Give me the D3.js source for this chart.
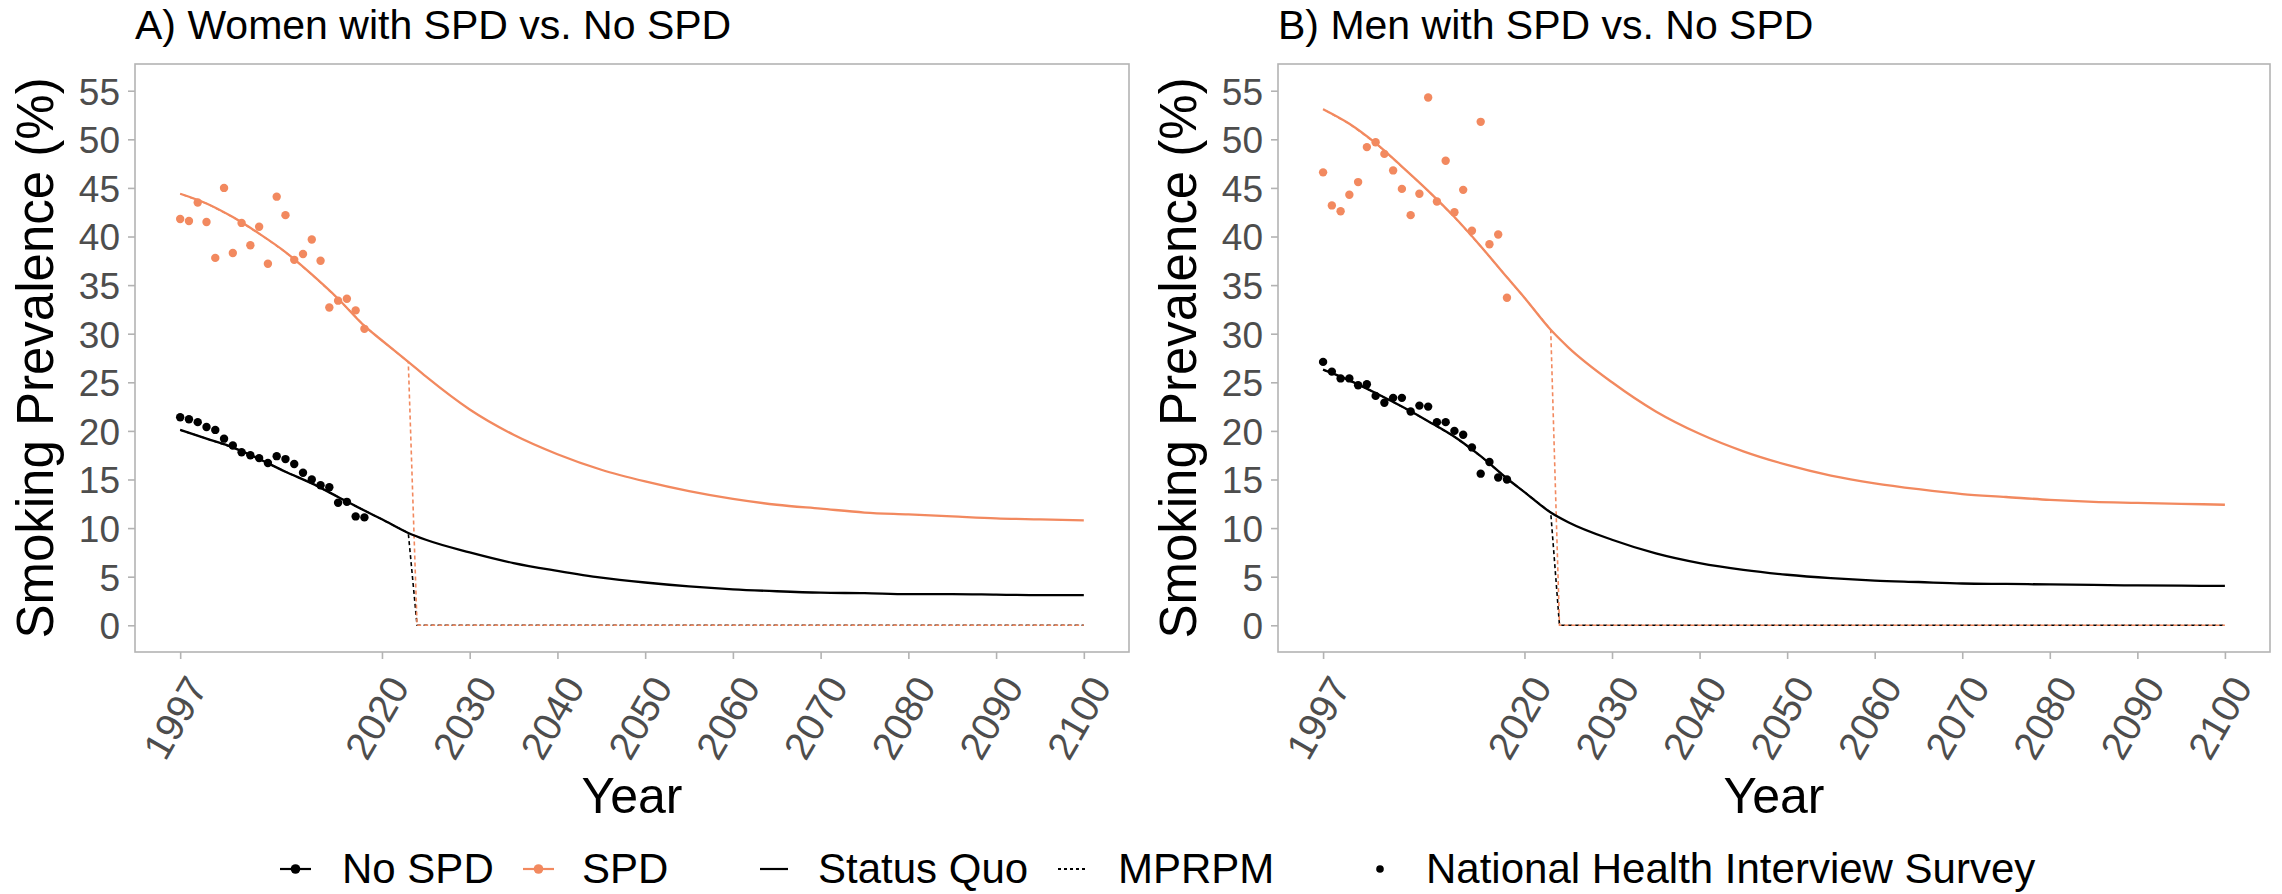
<!DOCTYPE html>
<html><head><meta charset="utf-8">
<script src="https://cdn.jsdelivr.net/npm/d3@7"></script>
<style>
body{margin:0;background:#fff;}
text{font-family:"Liberation Sans",Arial,Helvetica,sans-serif;}
</style>
</head><body>
<svg id="c" width="2282" height="894"></svg>
<script>
// ---------- DATA ----------
const surveyYears = [1997,1998,1999,2000,2001,2002,2003,2004,2005,2006,2007,2008,2009,2010,2011,2012,2013,2014,2015,2016,2017,2018];
const womenSPDSurvey   = [41.8,41.6,43.5,41.5,37.8,45.0,38.3,41.4,39.1,41.0,37.2,44.1,42.2,37.6,38.2,39.7,37.5,32.7,33.4,33.6,32.4,30.5];
const womenNoSPDSurvey = [21.4,21.2,20.9,20.4,20.1,19.2,18.5,17.8,17.5,17.2,16.7,17.4,17.1,16.6,15.7,15.0,14.4,14.2,12.6,12.7,11.2,11.1];
const menSPDSurvey     = [46.6,43.2,42.6,44.3,45.6,49.2,49.7,48.5,46.8,44.9,42.2,44.4,54.3,43.6,47.8,42.5,44.8,40.6,51.8,39.2,40.2,33.7];
const menNoSPDSurvey   = [27.1,26.1,25.4,25.4,24.7,24.8,23.6,22.9,23.4,23.4,22.0,22.6,22.5,20.9,20.9,20.0,19.6,18.3,15.6,16.8,15.2,15.0];

const modelYears = [1997,2000,2003,2006,2009,2012,2015,2018,2020,2023,2025,2030,2035,2040,2045,2050,2055,2060,2065,2070,2075,2080,2085,2090,2095,2100];
const womenSPDStatusQuo   = [44.4,43.4,42.0,40.3,38.4,36.1,33.6,30.8,29.3,27.1,25.6,22.2,19.6,17.6,16.0,14.8,13.8,13.0,12.4,12.0,11.6,11.4,11.2,11.0,10.9,10.8];
const womenNoSPDStatusQuo = [20.1,19.2,18.3,17.1,15.8,14.6,13.2,11.8,10.9,9.5,8.8,7.5,6.4,5.6,4.9,4.4,4.0,3.7,3.5,3.35,3.3,3.2,3.2,3.15,3.1,3.1];
const menSPDStatusQuo     = [53.1,51.6,49.6,47.2,44.7,42.0,39.0,35.8,33.7,30.4,28.6,25.0,22.0,19.7,17.9,16.5,15.4,14.6,14.0,13.5,13.2,12.9,12.7,12.6,12.5,12.4];
const menNoSPDStatusQuo   = [26.3,25.2,23.9,22.5,21.0,19.4,17.4,15.1,13.7,11.6,10.6,8.8,7.4,6.4,5.7,5.2,4.85,4.6,4.45,4.3,4.25,4.2,4.15,4.1,4.07,4.05];

const mprpmYears = [1997,2000,2003,2006,2009,2012,2015,2018,2020,2023,2024,2040,2060,2080,2100];
const womenSPDMPRPM   = [44.4,43.4,42.0,40.3,38.4,36.1,33.6,30.8,29.3,27.1,0,0,0,0,0];
const womenNoSPDMPRPM = [20.1,19.2,18.3,17.1,15.8,14.6,13.2,11.8,10.9,9.5,0,0,0,0,0];
const menSPDMPRPM     = [53.1,51.6,49.6,47.2,44.7,42.0,39.0,35.8,33.7,30.4,0,0,0,0,0];
const menNoSPDMPRPM   = [26.3,25.2,23.9,22.5,21.0,19.4,17.4,15.1,13.7,11.6,0,0,0,0,0];

const xTickValues = [1997,2020,2030,2040,2050,2060,2070,2080,2090,2100];
const yTickValues = [0,5,10,15,20,25,30,35,40,45,50,55];
const panelTitles = ["A) Women with SPD vs. No SPD","B) Men with SPD vs. No SPD"];
const legendLabels = ["No SPD","SPD","Status Quo","MPRPM","National Health Interview Survey"];

// ---------- STYLE ----------
const colNo = "#000000", colSPD = "#F2895F";
const gridCol = "#B3B3B3", tickTextCol = "#4D4D4D";
const svg = d3.select("#c");
svg.append("rect").attr("width",2282).attr("height",894).attr("fill","#fff");

const pTop = 64, pBottom = 652;
const y = d3.scaleLinear().domain([-2.75, 57.75]).range([pBottom, pTop]);

function zip(xs, ys){ return xs.map((d,i)=>({x:d,y:ys[i]})); }

function panel(left, right, title, spdSQ, noSQ, spdMP, noMP, spdPts, noPts){
  const x = d3.scaleLinear().domain([1997-5.15, 2100+5.15]).range([left, right]);
  const g = svg.append("g");
  g.append("rect").attr("x",left).attr("y",pTop).attr("width",right-left).attr("height",pBottom-pTop)
    .attr("fill","none").attr("stroke",gridCol).attr("stroke-width",1.6);

  const line = d3.line().x(d=>x(d.x)).y(d=>y(d.y)).curve(d3.curveMonotoneX);
  const lineLin = d3.line().x(d=>x(d.x)).y(d=>y(d.y));

  g.append("path").attr("d", lineLin(zip(mprpmYears, noMP))).attr("fill","none")
    .attr("stroke",colNo).attr("stroke-width",1.6).attr("stroke-dasharray","4,3");
  g.append("path").attr("d", lineLin(zip(mprpmYears, spdMP))).attr("fill","none")
    .attr("stroke",colSPD).attr("stroke-width",1.6).attr("stroke-dasharray","4,3").attr("stroke-dashoffset",3.5);

  g.append("path").attr("d", line(zip(modelYears, noSQ))).attr("fill","none")
    .attr("stroke",colNo).attr("stroke-width",2.3);
  g.append("path").attr("d", line(zip(modelYears, spdSQ))).attr("fill","none")
    .attr("stroke",colSPD).attr("stroke-width",2.3);

  g.append("g").selectAll("circle").data(zip(surveyYears, noPts)).join("circle")
    .attr("cx",d=>x(d.x)).attr("cy",d=>y(d.y)).attr("r",4.2).attr("fill",colNo);
  g.append("g").selectAll("circle").data(zip(surveyYears, spdPts)).join("circle")
    .attr("cx",d=>x(d.x)).attr("cy",d=>y(d.y)).attr("r",4.2).attr("fill",colSPD);

  const xa = g.append("g").attr("transform",`translate(0,${pBottom})`)
    .call(d3.axisBottom(x).tickValues(xTickValues).tickFormat(d3.format("d")).tickSize(7).tickSizeOuter(0));
  xa.select(".domain").remove();
  xa.selectAll(".tick line").attr("stroke",gridCol).attr("stroke-width",1.6);
  xa.selectAll(".tick text").attr("x",null).attr("y",null).attr("dy",null)
    .attr("text-anchor","end").attr("transform","translate(28,35) rotate(-60)")
    .attr("fill",tickTextCol).style("font-size","39px").style("font-family",'"Liberation Sans",Arial,sans-serif');

  const ya = g.append("g").attr("transform",`translate(${left},0)`)
    .call(d3.axisLeft(y).tickValues(yTickValues).tickSize(7).tickSizeOuter(0).tickPadding(8));
  ya.select(".domain").remove();
  ya.selectAll(".tick line").attr("stroke",gridCol).attr("stroke-width",1.6);
  ya.selectAll(".tick text").attr("fill",tickTextCol).attr("dy","0.36em")
    .style("font-size","37px").style("font-family",'"Liberation Sans",Arial,sans-serif');

  g.append("text").attr("x",left).attr("y",39).text(title).attr("fill","#000").style("font-size","41px");
  g.append("text").attr("x",(left+right)/2).attr("y",813).attr("text-anchor","middle")
    .text("Year").style("font-size","50px");
  g.append("text").attr("transform",`translate(${left-82},${(pTop+pBottom)/2}) rotate(-90)`)
    .attr("text-anchor","middle").text("Smoking Prevalence (%)").style("font-size","51px");
}

panel(135, 1129, panelTitles[0], womenSPDStatusQuo, womenNoSPDStatusQuo, womenSPDMPRPM, womenNoSPDMPRPM, womenSPDSurvey, womenNoSPDSurvey);
panel(1278, 2270, panelTitles[1], menSPDStatusQuo, menNoSPDStatusQuo, menSPDMPRPM, menNoSPDMPRPM, menSPDSurvey, menNoSPDSurvey);

// ---------- LEGEND ----------
const lg = svg.append("g");
const ly = 869, lb = 883;
lg.append("line").attr("x1",280).attr("x2",311).attr("y1",ly).attr("y2",ly).attr("stroke",colNo).attr("stroke-width",2.2);
lg.append("circle").attr("cx",295.5).attr("cy",ly).attr("r",4.8).attr("fill",colNo);
lg.append("text").attr("x",342).attr("y",lb).text(legendLabels[0]).style("font-size","42px");
lg.append("line").attr("x1",523).attr("x2",554).attr("y1",ly).attr("y2",ly).attr("stroke",colSPD).attr("stroke-width",2.2);
lg.append("circle").attr("cx",538.5).attr("cy",ly).attr("r",4.8).attr("fill",colSPD);
lg.append("text").attr("x",582).attr("y",lb).text(legendLabels[1]).style("font-size","42px");
lg.append("line").attr("x1",760).attr("x2",788).attr("y1",ly).attr("y2",ly).attr("stroke","#000").attr("stroke-width",2.2);
lg.append("text").attr("x",818).attr("y",lb).text(legendLabels[2]).style("font-size","42px");
lg.append("line").attr("x1",1058).attr("x2",1088).attr("y1",ly).attr("y2",ly).attr("stroke","#000").attr("stroke-width",1.8).attr("stroke-dasharray","3,3");
lg.append("text").attr("x",1118).attr("y",lb).text(legendLabels[3]).style("font-size","42px");
lg.append("circle").attr("cx",1380).attr("cy",ly).attr("r",3.8).attr("fill","#000");
lg.append("text").attr("x",1426).attr("y",lb).text(legendLabels[4]).style("font-size","42px");
</script>
</body></html>
